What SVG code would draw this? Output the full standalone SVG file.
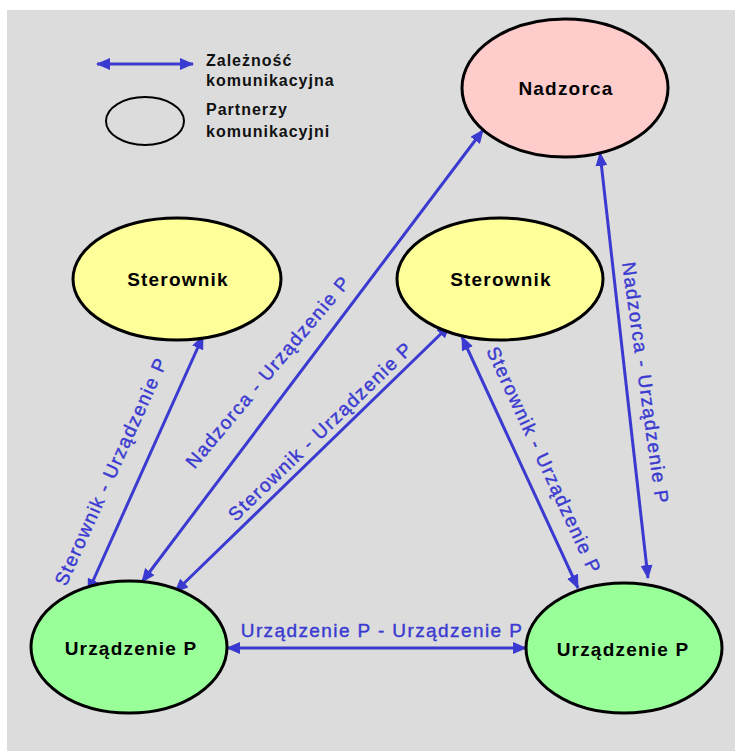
<svg xmlns="http://www.w3.org/2000/svg" width="735" height="751" viewBox="0 0 735 751">
  <style>
    .node { stroke: #000; stroke-width: 3; }
    .nadzorca { fill: #ffcccc; }
    .sterownik { fill: #ffff99; }
    .urzadzenie { fill: #99ff99; }
    .ntext { font-family: "Liberation Sans", Arial, sans-serif; font-weight: bold; font-size: 19px; letter-spacing: 1.2px; fill: #000; text-anchor: middle; }
    .link { stroke: #3a3ad0; stroke-width: 3; fill: none; marker-start: url(#tip); marker-end: url(#tip); }
    .ltext { font-family: "Liberation Sans", Arial, sans-serif; font-size: 19px; letter-spacing: 1.4px; fill: #3a3ad0; stroke: #3a3ad0; stroke-width: 0.4; text-anchor: middle; }
    .legend { font-family: "Liberation Sans", Arial, sans-serif; font-weight: bold; font-size: 16px; letter-spacing: 1px; fill: #111; }
  </style>
  <defs>
    <marker id="tip" viewBox="0 0 14 12" refX="13" refY="6" markerWidth="14" markerHeight="12" markerUnits="userSpaceOnUse" orient="auto-start-reverse">
      <path d="M0,0 L14,6 L0,12 z" fill="#3a3ad0"/>
    </marker>
  </defs>

  <!-- canvas -->
  <rect x="0" y="0" width="735" height="751" fill="#ffffff"/>
  <rect x="7" y="10" width="728" height="741" fill="#dcdcdc"/>

  <!-- legend -->
  <g id="legend">
    <line class="link" x1="97" y1="64" x2="193" y2="64"/>
    <text class="legend" x="206" y="66">Zależność</text>
    <text class="legend" x="206" y="86">komunikacyjna</text>
    <ellipse cx="145" cy="121" rx="39" ry="24" fill="none" stroke="#000" stroke-width="2"/>
    <text class="legend" x="206" y="115">Partnerzy</text>
    <text class="legend" x="206" y="137">komunikacyjni</text>
  </g>

  <!-- connectors -->
  <g id="connectors">
    <line class="link" x1="203" y1="336" x2="88" y2="592"/>
    <line class="link" x1="483" y1="130" x2="142" y2="582"/>
    <line class="link" x1="450" y1="325" x2="175" y2="592"/>
    <line class="link" x1="462" y1="337" x2="578" y2="588"/>
    <line class="link" x1="600" y1="153" x2="648" y2="578"/>
    <line class="link" x1="227" y1="648" x2="526" y2="648"/>

    <text class="ltext" transform="translate(117,474) rotate(-65.7)">Sterownik - Urządzenie P</text>
    <text class="ltext" transform="translate(273,376) rotate(-50)">Nadzorca  - Urządzenie P</text>
    <text class="ltext" transform="translate(325,436) rotate(-44)">Sterownik - Urządzenie P</text>
    <text class="ltext" transform="translate(538,463) rotate(65.2)">Sterownik - Urządzenie P</text>
    <text class="ltext" transform="translate(639,384) rotate(82)">Nadzorca - Urządzenie P</text>
    <text class="ltext" x="382" y="637">Urządzenie P - Urządzenie P</text>
  </g>

  <!-- nodes -->
  <g id="nadzorca">
    <ellipse class="node nadzorca" cx="565" cy="88" rx="103" ry="69"/>
    <text class="ntext" x="566" y="95">Nadzorca</text>
  </g>
  <g id="sterownik-1">
    <ellipse class="node sterownik" cx="177" cy="279" rx="104" ry="61"/>
    <text class="ntext" x="178" y="286">Sterownik</text>
  </g>
  <g id="sterownik-2">
    <ellipse class="node sterownik" cx="500" cy="279" rx="103" ry="61"/>
    <text class="ntext" x="501" y="286">Sterownik</text>
  </g>
  <g id="urzadzenie-1">
    <ellipse class="node urzadzenie" cx="129" cy="647" rx="98" ry="66"/>
    <text class="ntext" x="131" y="655">Urządzenie P</text>
  </g>
  <g id="urzadzenie-2">
    <ellipse class="node urzadzenie" cx="624" cy="648" rx="98" ry="65"/>
    <text class="ntext" x="623" y="656">Urządzenie P</text>
  </g>
</svg>
